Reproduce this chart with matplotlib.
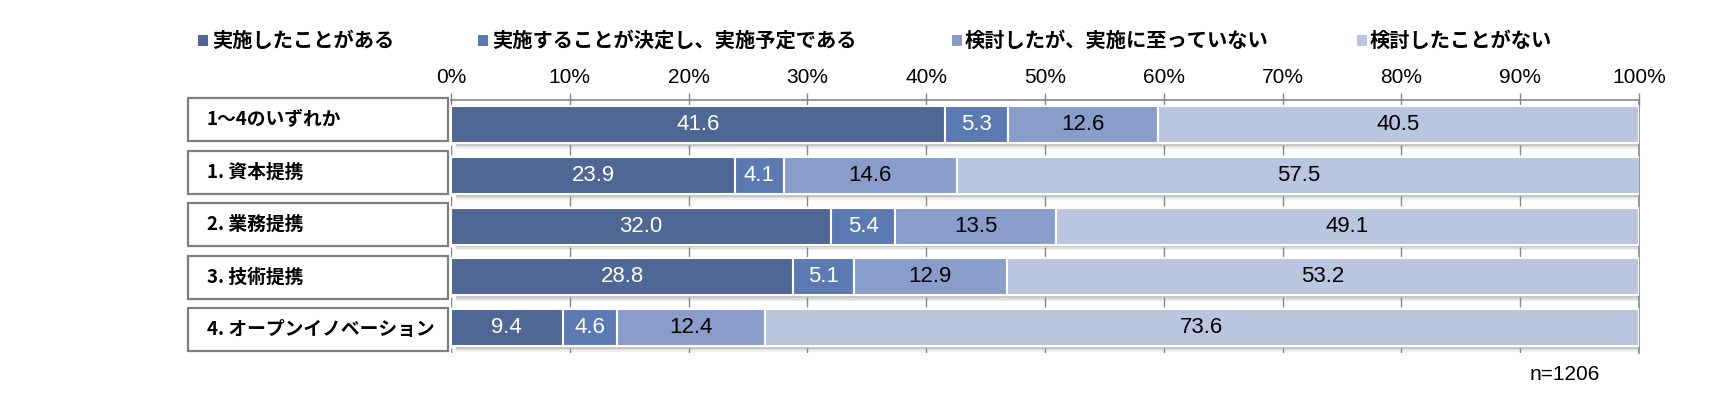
import matplotlib
matplotlib.use("Agg")
import matplotlib.pyplot as plt
from matplotlib.patches import Rectangle

# ---- data ----
categories = ["1〜4のいずれか", "1. 資本提携", "2. 業務提携", "3. 技術提携", "4. オープンイノベーション"]
series_names = ["実施したことがある", "実施することが決定し、実施予定である",
                "検討したが、実施に至っていない", "検討したことがない"]
s_done = [41.6, 23.9, 32.0, 28.8, 9.4]
s_planned = [5.3, 4.1, 5.4, 5.1, 4.6]
s_considered = [12.6, 14.6, 13.5, 12.9, 12.4]
s_never = [40.5, 57.5, 49.1, 53.2, 73.6]
tick_values = [0, 10, 20, 30, 40, 50, 60, 70, 80, 90, 100]
tick_labels = ["0%", "10%", "20%", "30%", "40%", "50%", "60%", "70%", "80%", "90%", "100%"]
note = "n=1206"

colors = ["#4F6795", "#5C7AB2", "#899DCB", "#BAC5DF"]
label_colors = ["white", "white", "black", "black"]
JP = ["Noto Sans CJK JP", "DejaVu Sans"]
NUM = ["Liberation Sans", "DejaVu Sans"]

W, H = 1712, 399
fig = plt.figure(figsize=(W / 100, H / 100), dpi=100)


def fx(x):
    return x / W


def fy(y):
    return 1 - y / H


# axes placement (pixels)
ax_l, ax_r, ax_t, ax_b = 451, 1639, 99.5, 353
ax = fig.add_axes([fx(ax_l), fy(ax_b), (ax_r - ax_l) / W, (ax_b - ax_t) / H])

series = [s_done, s_planned, s_considered, s_never]
ypos = list(range(len(categories)))
bh = 0.73

# shadows
totals = [sum(v) for v in zip(*series)]
for a, dy in [(0.10, 0.05), (0.08, 0.08), (0.06, 0.11)]:
    ax.barh([y + dy for y in ypos], totals, left=[0.4] * len(ypos), height=bh,
            color="black", alpha=a, linewidth=0, zorder=1)

left = [0.0] * len(categories)
for vals, c, lc in zip(series, colors, label_colors):
    bars = ax.barh(ypos, vals, left=left, height=bh, color=c,
                   edgecolor="white", linewidth=1.5, zorder=3)
    for b, v in zip(bars, vals):
        ax.text(b.get_x() + b.get_width() / 2, b.get_y() + b.get_height() / 2,
                f"{v:.1f}", ha="center", va="center", color=lc,
                fontsize=16, family=NUM, zorder=4)
    left = [l + v for l, v in zip(left, vals)]

ax.set_xlim(0, 100)
ax.set_ylim(len(categories) - 0.5, -0.5)
ax.set_yticks([])
ax.xaxis.tick_top()
ax.set_xticks(tick_values)
ax.set_xticklabels(tick_labels, family=NUM, fontsize=15)
ax.tick_params(axis="x", direction="inout", length=10, width=1, color="#868686", pad=4)
for s in ["left", "bottom"]:
    ax.spines[s].set_visible(False)
for s in ["top", "right"]:
    ax.spines[s].set_color("#868686")
    ax.spines[s].set_linewidth(1.2)

# tick marks at each category boundary
for k in range(len(categories)):
    yb = k + 0.5
    ax.vlines(tick_values, yb - 0.1, yb + 0.1, color="#868686", linewidth=1, zorder=2)

# category label boxes
box_x0, box_x1, box_h = 188, 448, 43
for i, cat in enumerate(categories):
    cy = 119.5 + 52.6 * i
    fig.add_artist(Rectangle((fx(box_x0), fy(cy + box_h / 2)), (box_x1 - box_x0) / W, box_h / H,
                             transform=fig.transFigure, facecolor="white",
                             edgecolor="#7F7F7F", linewidth=1.6))
    fig.text(fx(207), fy(cy), cat, ha="left", va="center", fontsize=13.5,
             family=JP, fontweight="bold")

# legend
leg_sq = [198, 478, 952, 1357]
leg_tx = [212, 492, 965, 1370]
for name, c, sx, tx in zip(series_names, colors, leg_sq, leg_tx):
    fig.add_artist(Rectangle((fx(sx), fy(46)), 10 / W, 11 / H, transform=fig.transFigure,
                             facecolor=c, edgecolor="none"))
    fig.text(fx(tx), fy(40), name, ha="left", va="center", fontsize=14.6,
             family=JP, fontweight="bold")

fig.text(fx(1565), fy(375), note, ha="center", va="center", fontsize=15, family=NUM)

fig.savefig("out.png", dpi=100)
